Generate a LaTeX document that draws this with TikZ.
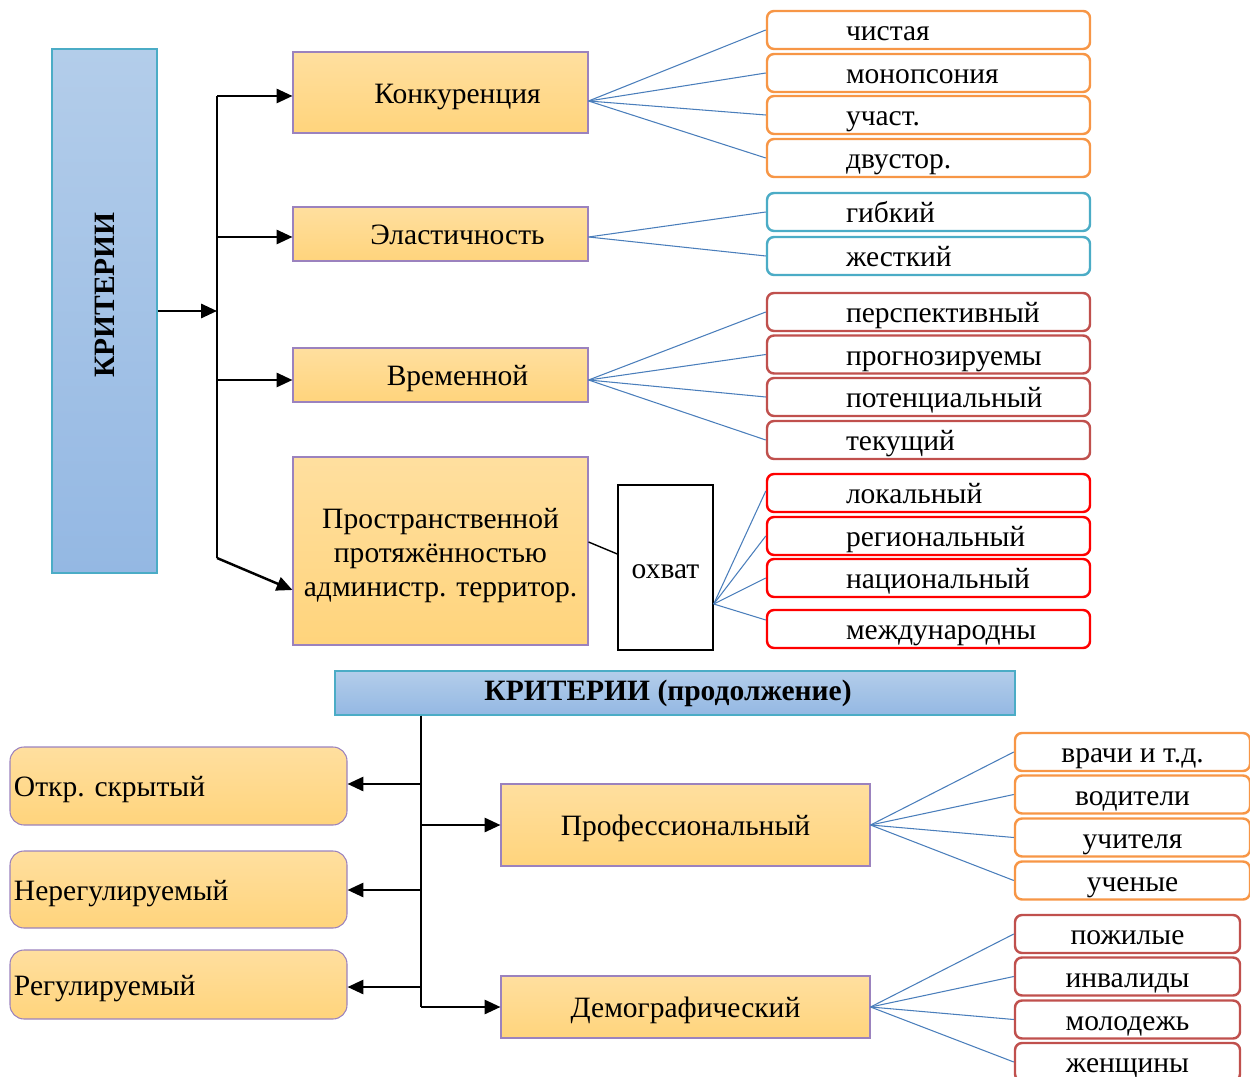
\documentclass[tikz,border=0pt]{standalone}
\usepackage{fontspec}
\setmainfont{Liberation Serif}
\usetikzlibrary{arrows.meta}
\newdimen\pxu \pxu=0.02cm
\definecolor{ortop}{HTML}{FFDF9F}
\definecolor{orbot}{HTML}{FFD47C}
\definecolor{purp}{HTML}{9B82BE}
\definecolor{bluetop}{HTML}{B3CDEA}
\definecolor{bluebot}{HTML}{94B8E3}
\definecolor{bluebd}{HTML}{4BACC6}
\definecolor{lorange}{HTML}{F79646}
\definecolor{lblue}{HTML}{4BACC6}
\definecolor{ldred}{HTML}{C0504D}
\definecolor{lred}{HTML}{FF0000}
\definecolor{fanblue}{HTML}{4A7EBB}
\newcommand{\dn}[2][6.2pt]{\raisebox{-#1}[0pt][0pt]{#2}}
\newcommand{\dnb}[2][2.6pt]{\raisebox{-#1}[\height][\depth]{#2}}
\newcommand{\lt}[1]{\makebox[323\pxu][l]{\hspace*{79\pxu}\dn{#1}}}
\newcommand{\lb}[1]{\makebox[337\pxu][l]{\hspace*{4\pxu}\dn{#1}}}
\newcommand{\ct}[1]{\makebox[295\pxu][c]{\hspace*{34\pxu}\dn{#1}}}
\begin{document}
\begin{tikzpicture}[x=0.02cm,y=-0.02cm,
  every node/.style={font=\fontsize{16.8pt}{19.4pt}\selectfont},
  mainbox/.style={draw=purp, line width=0.6pt, top color=ortop, bottom color=orbot, inner sep=0pt, align=center},
  bluebox/.style={draw=bluebd, line width=0.8pt, top color=bluetop, bottom color=bluebot, inner sep=0pt},
  leaf/.style={draw=#1, line width=1.4pt, rounded corners=4pt, fill=white, minimum height=38\pxu, inner sep=0pt},
  fan/.style={draw=fanblue, line width=0.6pt},
  trunk/.style={line width=1pt},
  arr/.style={line width=1.4pt, -{Triangle[length=9pt,width=8pt]}},
]
\useasboundingbox (0,0) rectangle (1250,1077);
\clip (0,0) rectangle (1250,1077);

% ---------- top part ----------
\node[bluebox, minimum width=105\pxu, minimum height=524\pxu] (krit) at (104.5,311) {};
\node[rotate=90, font=\fontsize{16.8pt}{19.4pt}\selectfont\bfseries] (kritt) at (105,295) {КРИТЕРИИ};

\node[mainbox, minimum width=295\pxu, minimum height=81\pxu] (konk) at (440.5,92.5) {\ct{Конкуренция}};
\node[mainbox, minimum width=295\pxu, minimum height=54\pxu] (elast) at (440.5,234) {\ct{Эластичность}};
\node[mainbox, minimum width=295\pxu, minimum height=54\pxu] (vrem) at (440.5,375) {\ct{Временной}};
\node[mainbox, minimum width=295\pxu, minimum height=188\pxu] (prostr) at (440.5,551) {\dnb{\begin{tabular}{@{}c@{}}Пространственной\\протяжённостью\\администр. территор.\end{tabular}}};
\node[draw=black, line width=0.8pt, fill=white, minimum width=95\pxu, minimum height=165\pxu, inner sep=0pt] (ohvat) at (665.5,567.5) {\dn{охват}};

\coordinate (tk0) at (217,311);
\coordinate (t1) at (217,96);
\coordinate (t2) at (217,237);
\coordinate (t3) at (217,380);
\coordinate (t4) at (217,558);
\draw[trunk] (t1) -- (t4);
\draw[arr] (krit.east |- tk0) -- (tk0);
\draw[arr] (t1) -- (t1 -| konk.west);
\draw[arr] (t2) -- (t2 -| elast.west);
\draw[arr] (t3) -- (t3 -| vrem.west);
\draw[arr] (t4) -- ([yshift=-39\pxu]prostr.west);

% leaves
\node[leaf=lorange] (l1) at (928.5,30) {\lt{чистая}};
\node[leaf=lorange] (l2) at (928.5,73) {\lt{монопсония}};
\node[leaf=lorange] (l3) at (928.5,115) {\lt{участ.}};
\node[leaf=lorange] (l4) at (928.5,158) {\lt{двустор.}};
\node[leaf=lblue] (l5) at (928.5,212) {\lt{гибкий}};
\node[leaf=lblue] (l6) at (928.5,256) {\lt{жесткий}};
\node[leaf=ldred] (l7) at (928.5,312) {\lt{перспективный}};
\node[leaf=ldred] (l8) at (928.5,354.5) {\lt{прогнозируемы}};
\node[leaf=ldred] (l9) at (928.5,397) {\lt{потенциальный}};
\node[leaf=ldred] (l10) at (928.5,440) {\lt{текущий}};
\node[leaf=lred] (l11) at (928.5,493) {\lt{локальный}};
\node[leaf=lred] (l12) at (928.5,536) {\lt{региональный}};
\node[leaf=lred] (l13) at (928.5,578) {\lt{национальный}};
\node[leaf=lred] (l14) at (928.5,629) {\lt{международны}};

\coordinate (k0) at ([yshift=-8.5\pxu]konk.east);
\foreach \n in {l1,l2,l3,l4} \draw[fan] (k0) -- (\n.west);
\coordinate (e0) at ([yshift=-3\pxu]elast.east);
\foreach \n in {l5,l6} \draw[fan] (e0) -- (\n.west);
\coordinate (v0) at ([yshift=-5\pxu]vrem.east);
\foreach \n in {l7,l8,l9,l10} \draw[fan] (v0) -- (\n.west);
\coordinate (o0) at ([yshift=-36.5\pxu]ohvat.east);
\draw[fan] (o0) -- ([yshift=2\pxu]l11.west);
\draw[fan] (o0) -- (l12.west);
\draw[fan] (o0) -- (l13.west);
\draw[fan] (o0) -- ([yshift=9\pxu]l14.west);
\draw[line width=0.8pt] ([yshift=9\pxu]prostr.east) -- ([yshift=13.5\pxu]ohvat.west);

% ---------- bottom part ----------
\node[bluebox, minimum width=680\pxu, minimum height=44\pxu, font=\fontsize{16.8pt}{19.4pt}\selectfont\bfseries] (title) at (675,693) {\makebox[680\pxu][c]{\dn[4.5pt]{КРИТЕРИИ (продолжение)}\hspace*{14\pxu}}};

\node[mainbox, rounded corners=8pt, minimum height=78\pxu] (b1) at (178.5,786) {\lb{Откр. скрытый}};
\node[mainbox, rounded corners=8pt, minimum height=77\pxu] (b2) at (178.5,889.5) {\lb{Нерегулируемый}};
\node[mainbox, rounded corners=8pt, minimum height=69\pxu] (b3) at (178.5,984.5) {\lb{Регулируемый}};
\node[mainbox, minimum width=369\pxu, minimum height=82\pxu] (prof) at (685.5,825) {\dn{Профессиональный}};
\node[mainbox, minimum width=369\pxu, minimum height=62\pxu] (demo) at (685.5,1007) {\dn{Демографический}};

\coordinate (s1) at (421,784);
\coordinate (s2) at (421,825);
\coordinate (s3) at (421,890);
\coordinate (s4) at (421,987);
\coordinate (s5) at (421,1007);
\draw[trunk] (title.south -| s1) -- (s5);
\draw[arr] (s1) -- (s1 -| b1.east);
\draw[arr] (s3) -- (s3 -| b2.east);
\draw[arr] (s4) -- (s4 -| b3.east);
\draw[arr] (s2) -- (s2 -| prof.west);
\draw[arr] (s5) -- (s5 -| demo.west);

\node[leaf=lorange, minimum width=235\pxu] (r1) at (1132.5,752) {\dn{врачи и т.д.}};
\node[leaf=lorange, minimum width=235\pxu] (r2) at (1132.5,794.5) {\dn{водители}};
\node[leaf=lorange, minimum width=235\pxu] (r3) at (1132.5,837.5) {\dn{учителя}};
\node[leaf=lorange, minimum width=235\pxu] (r4) at (1132.5,880.5) {\dn{ученые}};
\node[leaf=ldred, minimum width=225\pxu] (r5) at (1127.5,934) {\dn{пожилые}};
\node[leaf=ldred, minimum width=225\pxu] (r6) at (1127.5,976.5) {\dn{инвалиды}};
\node[leaf=ldred, minimum width=225\pxu] (r7) at (1127.5,1019.5) {\dn{молодежь}};
\node[leaf=ldred, minimum width=225\pxu] (r8) at (1127.5,1062) {\dn{женщины}};

\foreach \n in {r1,r2,r3,r4} \draw[fan] (prof.east) -- (\n.west);
\foreach \n in {r5,r6,r7,r8} \draw[fan] (demo.east) -- (\n.west);
\end{tikzpicture}
\end{document}
